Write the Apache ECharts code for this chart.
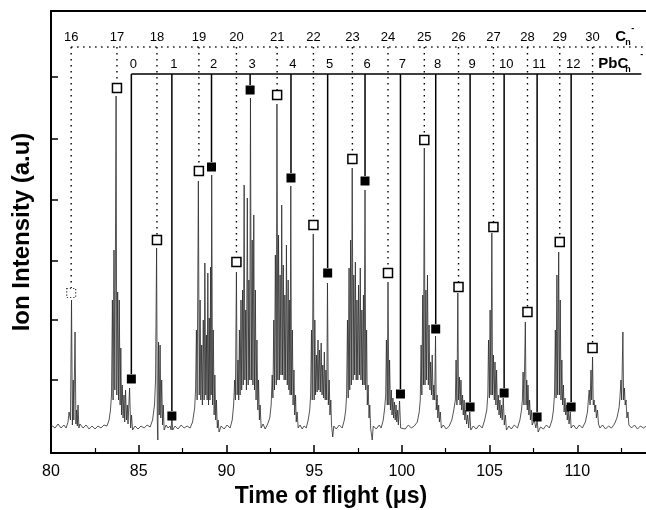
<!DOCTYPE html>
<html><head><meta charset="utf-8">
<script src="https://cdn.jsdelivr.net/npm/echarts/dist/echarts.min.js"></script>
<style>html,body{margin:0;padding:0;background:#fff}#c{width:646px;height:510px}</style>
</head><body><div id="c"></div>
<script>
// ---------- data ----------
const xTickLabels = [80, 85, 90, 95, 100, 105, 110];
const yTickValues = [73, 133, 192, 253, 314, 376];

// C_n^- clusters: label, time of flight (us), marker intensity (a.u.)
const cIons  = [16, 17, 18, 19, 20, 21, 22, 23, 24, 25, 26, 27, 28, 29, 30];
const cTime  = [81.15, 83.76, 86.04, 88.43, 90.57, 92.89, 94.96, 97.18, 99.21, 101.28, 103.23, 105.22, 107.16, 109.00, 110.87];
const cPeak  = [160, 365, 213, 282, 191, 358, 228, 294, 180, 313, 166, 226, 141, 211, 105];

// PbC_n^- clusters
const pbIons = [0, 1, 2, 3, 4, 5, 6, 7, 8, 9, 10, 11, 12];
const pbTime = [84.58, 86.89, 89.15, 91.35, 93.68, 95.77, 97.90, 99.92, 101.93, 103.89, 105.83, 107.71, 109.65];
const pbPeak = [74, 37, 286, 363, 275, 180, 272, 59, 124, 46, 60, 36, 46];

// measured spectrum: [time of flight (us), ion intensity (a.u.)]
const spectrum = [
[80.00,28],[80.23,25],[80.40,29],[80.57,25],[80.74,28],[80.86,25],[80.97,31],[81.03,41],[81.11,33],[81.17,153],[81.22,28],[81.27,73],[81.30,33],[81.37,121],[81.42,29],[81.46,43],[81.50,27],[81.54,48],[81.59,25],[81.65,29],[81.83,25],[82.00,28],[82.17,24],[82.34,27],[82.51,24],[82.68,27],[82.85,25],[83.02,28],[83.19,27],[83.31,33],[83.39,43],[83.45,58],
[83.50,153],[83.54,53],[83.59,203],[83.64,63],[83.71,357],[83.75,58],[83.80,161],[83.85,53],[83.89,153],[83.94,48],[83.98,105],[84.02,38],[84.06,68],[84.11,35],[84.16,58],[84.20,31],[84.25,63],[84.30,33],[84.35,48],[84.39,29],[84.48,65],[84.54,25],[84.59,38],[84.65,23],
[84.79,27],[84.96,24],[85.13,27],[85.31,25],[85.48,28],[85.65,26],[85.79,33],[85.90,48],
[85.96,73],[86.02,205],[86.06,33],[86.09,13],[86.13,111],[86.17,38],[86.22,108],[86.26,35],[86.31,73],[86.36,28],[86.40,48],[86.45,23],[86.56,28],[86.67,25],[86.79,27],[86.85,23],[86.89,36],[86.94,23],
[87.07,27],[87.24,24],[87.42,28],[87.59,25],[87.76,27],[87.93,25],[88.07,31],[88.19,45],
[88.24,63],[88.29,123],[88.33,53],[88.40,272],[88.45,58],[88.50,153],[88.54,53],[88.59,108],[88.63,48],[88.68,133],[88.73,53],[88.77,190],[88.82,58],[88.86,118],[88.90,53],[88.94,180],[88.98,48],[89.02,135],[89.06,53],[89.10,186],[89.13,58],[89.16,278],[89.21,48],[89.25,123],[89.30,38],[89.34,78],[89.39,33],[89.43,53],[89.48,25],[89.53,33],[89.58,21],
[89.70,27],[89.87,24],[90.04,28],[90.21,25],[90.33,33],[90.41,48],
[90.47,73],[90.51,53],[90.57,181],[90.61,58],[90.66,93],[90.70,53],[90.74,123],[90.78,58],[90.83,153],[90.87,63],[90.92,163],[90.96,68],[91.01,268],[91.05,73],[91.10,143],[91.14,63],[91.19,255],[91.24,68],[91.28,173],[91.33,73],[91.37,355],[91.42,73],[91.47,213],[91.51,68],[91.56,238],[91.60,63],[91.65,163],[91.69,53],[91.74,113],[91.79,43],[91.83,73],[91.88,33],[91.92,48],[91.98,25],
[92.09,29],[92.21,24],[92.35,29],[92.47,35],[92.55,48],
[92.61,78],[92.65,55],[92.70,133],[92.74,63],[92.79,198],[92.84,68],[92.88,349],[92.93,73],[92.97,218],[93.02,73],[93.06,178],[93.11,78],[93.15,248],[93.20,78],[93.24,188],[93.29,73],[93.33,158],[93.38,73],[93.42,208],[93.47,68],[93.52,173],[93.56,63],[93.61,153],[93.63,58],[93.67,267],[93.71,58],[93.76,123],[93.80,48],[93.85,83],[93.89,38],[93.94,58],[93.98,31],[94.03,41],[94.09,25],
[94.20,28],[94.32,24],[94.43,27],[94.55,25],[94.66,33],[94.75,43],
[94.80,58],[94.85,123],[94.89,53],[94.95,219],[95.00,53],[95.04,133],[95.08,58],[95.13,98],[95.17,61],[95.22,113],[95.26,63],[95.31,103],[95.35,61],[95.40,110],[95.45,58],[95.49,88],[95.54,55],[95.58,101],[95.63,53],[95.67,83],[95.72,53],[95.76,170],[95.81,48],[95.86,73],[95.90,38],[95.95,53],[95.99,28],[96.06,16],[96.12,27],
[96.26,24],[96.43,28],[96.60,25],[96.72,33],[96.80,43],
[96.85,58],[96.90,133],[96.94,55],[96.99,185],[97.03,63],[97.08,213],[97.12,68],[97.17,285],[97.22,73],[97.26,178],[97.31,78],[97.35,191],[97.40,73],[97.44,153],[97.49,73],[97.53,168],[97.58,78],[97.63,185],[97.67,73],[97.72,143],[97.76,68],[97.81,158],[97.85,68],[97.90,263],[97.94,63],[97.99,123],[98.03,48],[98.08,68],[98.13,35],[98.17,48],[98.22,25],[98.31,13],[98.37,27],
[98.54,24],[98.71,28],[98.82,25],[98.94,33],[99.02,45],
[99.08,58],[99.12,113],[99.17,48],[99.21,171],[99.26,48],[99.30,93],[99.35,43],[99.40,63],[99.44,38],[99.49,55],[99.53,35],[99.58,51],[99.62,33],[99.67,48],[99.71,31],[99.76,43],[99.80,28],[99.87,52],[99.93,25],
[100.02,27],[100.19,24],[100.37,28],[100.54,25],[100.71,27],[100.88,31],[100.99,41],
[101.05,53],[101.10,108],[101.14,58],[101.19,158],[101.23,68],[101.28,305],[101.32,68],[101.37,163],[101.41,73],[101.46,178],[101.51,68],[101.55,128],[101.60,63],[101.64,91],[101.69,58],[101.73,98],[101.78,53],[101.82,68],[101.87,53],[101.92,117],[101.96,43],[102.01,58],[102.05,35],[102.10,48],[102.14,31],[102.19,41],[102.25,25],
[102.36,28],[102.53,24],[102.70,27],[102.85,33],[102.96,43],
[103.05,53],[103.09,93],[103.14,48],[103.19,160],[103.23,53],[103.28,76],[103.32,48],[103.37,73],[103.41,43],[103.46,58],[103.50,38],[103.55,53],[103.59,33],[103.64,43],[103.69,29],[103.75,38],[103.81,25],[103.87,41],[103.93,23],
[104.07,27],[104.24,24],[104.41,28],[104.58,25],[104.72,33],[104.84,43],
[104.90,58],[104.94,113],[104.99,55],[105.03,143],[105.08,58],[105.13,220],[105.17,58],[105.22,98],[105.27,53],[105.31,91],[105.36,48],[105.40,83],[105.45,43],[105.50,58],[105.54,38],[105.59,53],[105.63,35],[105.68,48],[105.72,33],[105.78,55],[105.84,28],[105.90,38],[105.96,23],
[106.10,27],[106.24,24],[106.41,28],[106.59,25],[106.73,33],[106.82,43],
[106.87,53],[106.91,81],[106.96,48],[107.04,131],[107.08,48],[107.12,73],[107.15,43],[107.19,68],[107.24,38],[107.28,53],[107.33,33],[107.38,43],[107.43,28],[107.55,33],[107.64,25],[107.71,33],[107.77,21],
[107.90,26],[108.07,24],[108.24,28],[108.41,25],[108.56,33],[108.64,43],
[108.70,58],[108.75,123],[108.79,55],[108.84,178],[108.88,58],[108.94,201],[108.98,58],[109.03,153],[109.07,53],[109.12,93],[109.16,48],[109.21,68],[109.25,41],[109.30,55],[109.34,38],[109.39,48],[109.43,33],[109.48,43],[109.53,29],[109.60,41],[109.65,25],
[109.78,28],[109.95,24],[110.12,28],[110.29,25],[110.46,31],[110.58,41],
[110.64,55],[110.68,63],[110.73,48],[110.78,83],[110.82,53],[110.87,96],[110.91,48],[110.96,53],[111.00,41],[111.05,48],[111.09,35],[111.15,43],[111.21,29],[111.29,25],
[111.44,28],[111.61,24],[111.78,27],[111.95,25],[112.12,29],[112.26,35],[112.38,45],
[112.43,55],[112.49,73],[112.53,53],[112.60,121],[112.64,53],[112.69,65],[112.73,48],[112.78,53],[112.83,35],[112.89,41],[112.94,28],
[113.09,25],[113.26,28],[113.43,24],[113.60,27],[113.77,25],[113.94,27],[114.16,25]
];

// ---------- layout constants ----------
const FONT = "'Liberation Sans', Arial, Helvetica, sans-serif";
const ROW_C_LABEL = 26, ROW_C_LINE = 36, ROW_PB_LABEL = 53, ROW_PB_LINE = 63; // px below plot top
const HALF = 5;           // half marker size
const SPECIES_T = 112.17; // where the species names start

const cItems = cIons.map((n, i) => [cTime[i], cPeak[i], n]);
const pbItems = pbIons.map((n, i) => [pbTime[i], pbPeak[i], n]);

function txt(x, y, s, font, align) {
  return {type: 'text', x: x, y: y, style: {text: s, font: font, fill: '#000',
    align: align || 'center', verticalAlign: 'middle',
    textAlign: align || 'center', textVerticalAlign: 'middle'}};
}

function cRender(params, api) {
  const cs = params.coordSys;
  const p = api.coord([api.value(0), api.value(1)]);
  return {type: 'group', children: [
    {type: 'line', shape: {x1: p[0], y1: cs.y + ROW_C_LINE, x2: p[0], y2: p[1] - HALF},
     style: {stroke: '#000', lineWidth: 1.4, lineDash: [1.4, 4.6]}},
    txt(p[0], cs.y + ROW_C_LABEL, String(api.value(2)), '13px ' + FONT)
  ]};
}
function pbRender(params, api) {
  const cs = params.coordSys;
  const p = api.coord([api.value(0), api.value(1)]);
  return {type: 'group', children: [
    {type: 'line', shape: {x1: p[0], y1: cs.y + ROW_PB_LINE, x2: p[0], y2: p[1] - HALF},
     style: {stroke: '#000', lineWidth: 1.5}},
    txt(p[0] + 2, cs.y + ROW_PB_LABEL, String(api.value(2)), '13px ' + FONT)
  ]};
}
function headerRender(params, api) {
  const cs = params.coordSys;
  const xc = api.coord([cTime[0], 0])[0];
  const xp = api.coord([pbTime[0], 0])[0];
  const xs = api.coord([SPECIES_T, 0])[0];
  const yC = cs.y + ROW_C_LINE, yP = cs.y + ROW_PB_LINE;
  return {type: 'group', children: [
    {type: 'line', shape: {x1: xc, y1: yC, x2: cs.x + cs.width, y2: yC},
     style: {stroke: '#000', lineWidth: 1.4, lineDash: [1.4, 4.6]}},
    {type: 'line', shape: {x1: xp, y1: yP, x2: xs + 26, y2: yP},
     style: {stroke: '#000', lineWidth: 1.6}},
    txt(xs, cs.y + ROW_C_LABEL, 'C', 'bold 15px ' + FONT, 'left'),
    txt(xs + 10, cs.y + ROW_C_LABEL + 6, 'n', 'bold 9px ' + FONT, 'left'),
    txt(xs + 16, cs.y + ROW_C_LABEL - 8, '-', 'bold 9px ' + FONT, 'left'),
    txt(xs - 17, cs.y + ROW_PB_LABEL, 'PbC', 'bold 15px ' + FONT, 'left'),
    txt(xs + 10, cs.y + ROW_PB_LABEL + 6, 'n', 'bold 9px ' + FONT, 'left'),
    txt(xs + 25, cs.y + ROW_PB_LABEL - 9, '-', 'bold 9px ' + FONT, 'left')
  ]};
}

const chart = echarts.init(document.getElementById('c'), null, {renderer: 'canvas'});
chart.setOption({
  animation: false,
  backgroundColor: '#fff',
  grid: {left: 51, top: 11, width: 614, height: 442, show: true, borderColor: '#000', borderWidth: 2,
         containLabel: false, outerBoundsMode: 'none'},
  xAxis: {
    type: 'value', min: 80, max: 115, interval: 5,
    axisLine: {show: true, onZero: false, lineStyle: {color: '#000', width: 2}},
    axisTick: {show: true, inside: true, length: 8, lineStyle: {color: '#000', width: 1.5}},
    minorTick: {show: true, splitNumber: 2, length: 5, lineStyle: {color: '#000', width: 1.2}},
    axisLabel: {show: true, color: '#000', fontSize: 16, fontFamily: FONT, margin: 11,
      formatter: v => (xTickLabels.indexOf(v) >= 0 ? String(v) : '')},
    splitLine: {show: false}, minorSplitLine: {show: false},
    name: 'Time of flight (\u03bcs)', nameLocation: 'middle', nameGap: 32,
    nameTextStyle: {color: '#000', fontSize: 23, fontWeight: 'bold', fontFamily: FONT,
      padding: [0, 54, 0, 0]}
  },
  yAxis: {
    type: 'value', min: 0, max: 442,
    axisLine: {show: true, onZero: false, lineStyle: {color: '#000', width: 2}},
    axisTick: {show: true, inside: true, length: 7, customValues: yTickValues, lineStyle: {color: '#000', width: 1.5}},
    axisLabel: {show: false},
    splitLine: {show: false},
    name: 'Ion Intensity (a.u)', nameLocation: 'middle', nameGap: 17,
    nameTextStyle: {color: '#000', fontSize: 24, fontWeight: 'bold', fontFamily: FONT}
  },
  series: [
    {type: 'line', data: spectrum, showSymbol: false, symbol: 'none', z: 2,
     lineStyle: {color: '#2a2a2a', width: 0.8}, clip: true},
    {type: 'custom', data: [[cTime[0]]], renderItem: headerRender, z: 3, silent: true},
    {type: 'custom', data: cItems, renderItem: cRender, z: 3, silent: true},
    {type: 'custom', data: pbItems, renderItem: pbRender, z: 3, silent: true},
    {type: 'scatter', data: cItems.slice(1), symbol: 'rect', symbolSize: 9, z: 5,
     itemStyle: {color: '#fff', borderColor: '#000', borderWidth: 1.5, opacity: 1}},
    {type: 'scatter', data: cItems.slice(0, 1), symbol: 'rect', symbolSize: 9, z: 5,
     itemStyle: {color: '#fff', borderColor: '#333', borderWidth: 1.2, borderType: [1.2, 2], opacity: 1}},
    {type: 'scatter', data: pbItems, symbol: 'rect', symbolSize: 9, z: 5,
     itemStyle: {color: '#000', borderColor: '#000', borderWidth: 0, opacity: 1}}
  ]
});
</script></body></html>
